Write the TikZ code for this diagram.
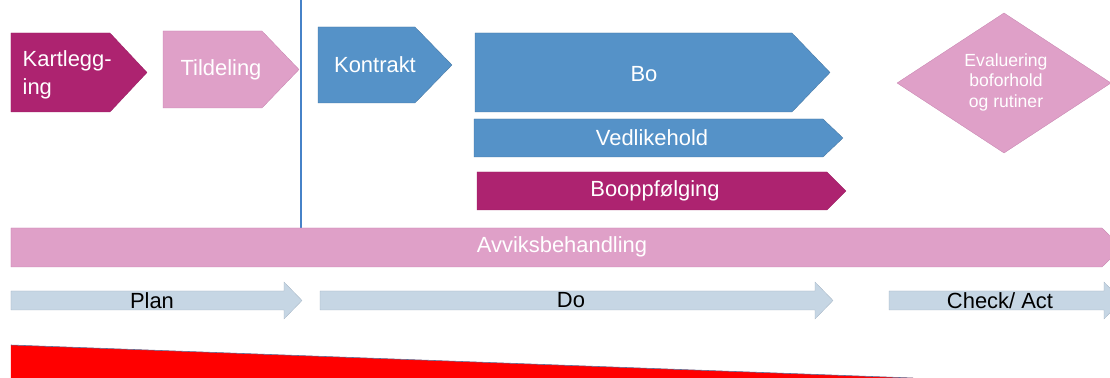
\documentclass[tikz,border=0pt]{standalone}
\usepackage{fontspec}
\setmainfont{Liberation Sans}
\definecolor{magentabox}{RGB}{173,35,112}
\definecolor{magentaline}{RGB}{150,30,97}
\definecolor{pinkbox}{RGB}{223,160,200}
\definecolor{pinkline}{RGB}{196,128,172}
\definecolor{bluebox}{RGB}{85,146,200}
\definecolor{blueline}{RGB}{65,113,156}
\definecolor{greybox}{RGB}{198,214,228}
\definecolor{greyline}{RGB}{160,176,192}
\definecolor{splitline}{RGB}{70,130,200}
\definecolor{edgeline}{RGB}{90,110,150}

\begin{document}
\begin{tikzpicture}[
  magfill/.style={fill=magentabox,draw=magentaline,very thin},
  pinkfill/.style={fill=pinkbox,draw=pinkline,very thin},
  bluefill/.style={fill=bluebox,draw=blueline,very thin},
  pdcafill/.style={fill=greybox,draw=greyline,very thin},
  lbl/.style={text=white,font=\fontsize{15.6}{19.9}\selectfont,align=center,inner sep=0pt},
  pdcalbl/.style={text=black,font=\fontsize{15.6}{19.9}\selectfont,inner sep=0pt}]
\useasboundingbox (0,0) rectangle (27.75,9.45);
\clip (0,0) rectangle (27.75,9.45);

% top row
\draw[magfill] (0.275,8.625) -- (2.75,8.625) -- (3.675,7.6375) -- (2.75,6.65) -- (0.275,6.65) -- cycle;
\node[lbl,align=left,anchor=west] (kart) at (0.56,7.58) {Kartlegg-\\ing};
\draw[pinkfill] (4.075,8.675) -- (6.55,8.675) -- (7.475,7.7125) -- (6.55,6.75) -- (4.075,6.75) -- cycle;
\node[lbl] (tild) at (5.525,7.7125) {Tildeling};

\draw[splitline,line width=0.9pt] (7.525,9.45) -- (7.525,3.75);

\draw[bluefill] (7.95,8.775) -- (10.375,8.775) -- (11.3,7.825) -- (10.375,6.875) -- (7.95,6.875) -- cycle;
\node[lbl] (kontrakt) at (9.375,7.825) {Kontrakt};
\draw[bluefill] (11.875,8.625) -- (19.8,8.625) -- (20.75,7.6375) -- (19.8,6.65) -- (11.875,6.65) -- cycle;
\node[lbl] (bo) at (16.1,7.6) {Bo};
\draw[bluefill] (11.85,6.475) -- (20.575,6.475) -- (21.075,6.0) -- (20.575,5.525) -- (11.85,5.525) -- cycle;
\node[lbl] (vedl) at (16.3,6.0) {Vedlikehold};
\draw[magfill] (11.925,5.15) -- (20.675,5.15) -- (21.15,4.675) -- (20.675,4.2) -- (11.925,4.2) -- cycle;
\node[lbl] (boopp) at (16.375,4.675) {Booppfølging};

\draw[pinkfill] (22.425,7.375) -- (25.1,9.125) -- (27.775,7.375) -- (25.1,5.625) -- cycle;
\node[lbl,font=\fontsize{12.5}{14.6}\selectfont] (eval) at (25.15,7.39) {Evaluering\\boforhold\\og rutiner};

% deviation bar
\draw[pinkfill] (0.275,3.75) -- (27.55,3.75) -- (28.05,3.2625) -- (27.55,2.775) -- (0.275,2.775) -- cycle;
\node[lbl] (avvik) at (14.05,3.27) {Avviksbehandling};

% PDCA arrows
\draw[pdcafill] (0.275,2.175) -- (7.1,2.175) -- (7.1,2.4) -- (7.55,1.9375) -- (7.1,1.475) -- (7.1,1.7) -- (0.275,1.7) -- cycle;
\node[pdcalbl] (plan) at (3.8,1.94) {Plan};
\draw[pdcafill] (8.0,2.175) -- (20.375,2.175) -- (20.375,2.4) -- (20.825,1.9375) -- (20.375,1.475) -- (20.375,1.7) -- (8.0,1.7) -- cycle;
\node[pdcalbl] (do) at (14.275,1.94) {Do};
\draw[pdcafill] (22.225,2.175) -- (27.6,2.175) -- (27.6,2.4) -- (28.05,1.9375) -- (27.6,1.475) -- (27.6,1.7) -- (22.225,1.7) -- cycle;
\node[pdcalbl] (check) at (25.0,1.94) {Check/ Act};

% red wedge
\fill[red] (0.275,0.825) -- (22.825,0) -- (0.275,0) -- cycle;
\draw[edgeline,thin] (0.275,0.825) -- (22.825,0);

\end{tikzpicture}
\end{document}
